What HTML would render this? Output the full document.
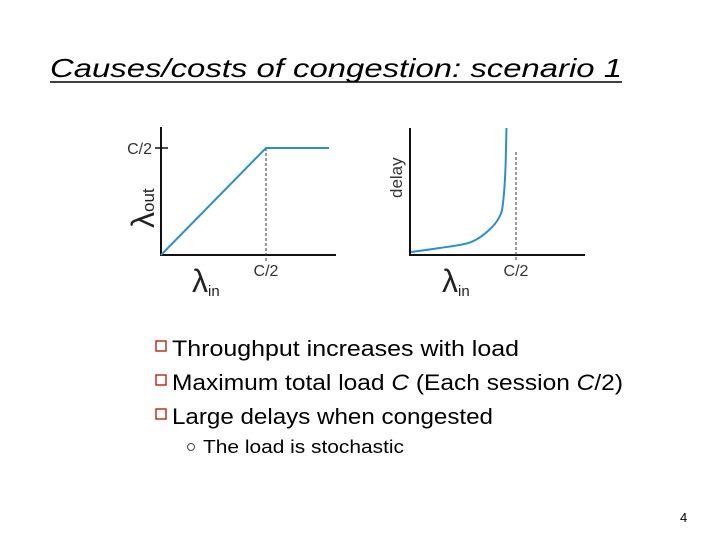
<!DOCTYPE html>
<html><head><meta charset="utf-8"><style>
body{margin:0;background:#fff}
svg{display:block}
text{font-family:"Liberation Sans",sans-serif}
</style></head><body>
<svg width="720" height="540" viewBox="0 0 720 540">
<text x="50" y="77" font-size="26" font-style="italic" textLength="572" lengthAdjust="spacingAndGlyphs" fill="#000">Causes/costs of congestion: scenario 1</text>
<line x1="50" y1="82" x2="622" y2="82" stroke="#000" stroke-width="1.5"/>

<g id="c1"></g>
<g id="c2"></g>

<g font-size="22" fill="#000">
<rect x="156" y="341" width="10" height="10" fill="none" stroke="#c03020" stroke-width="1.5"/>
<text x="172" y="356" textLength="347" lengthAdjust="spacingAndGlyphs">Throughput increases with load</text>
<rect x="156" y="375" width="10" height="10" fill="none" stroke="#c03020" stroke-width="1.5"/>
<text x="172" y="390" textLength="451" lengthAdjust="spacingAndGlyphs">Maximum total load <tspan font-style="italic">C</tspan> (Each session <tspan font-style="italic">C</tspan>/2)</text>
<rect x="156" y="409" width="10" height="10" fill="none" stroke="#c03020" stroke-width="1.5"/>
<text x="172" y="424" textLength="321" lengthAdjust="spacingAndGlyphs">Large delays when congested</text>
<circle cx="191" cy="447" r="3.5" fill="none" stroke="#444" stroke-width="1"/>
<text x="203" y="453" font-size="18" textLength="201" lengthAdjust="spacingAndGlyphs">The load is stochastic</text>
</g>
<text x="680" y="522" font-size="13">4</text>
</svg>
<script>
// Throughput chart data (x, y in units of C/2)
const tpX = [0, 1, 1.6];
const tpY = [0, 1, 1];
// Delay chart data (x in units of C/2, delay arbitrary units)
const dlX = [0.01, 0.28, 0.57, 0.75, 0.85, 0.88, 0.90, 0.91];
const dlY = [0.24, 0.55, 1.0, 2.0, 3.1, 4.3, 6.7, 10];
const tickLabels = ["C/2"];

const NS="http://www.w3.org/2000/svg";
function mk(p,tag,attrs){const e=document.createElementNS(NS,tag);for(const k in attrs)e.setAttribute(k,attrs[k]);p.appendChild(e);return e;}
const blue="#2a8fd0";

// chart 1
const g1=document.getElementById('c1');
const x1=v=>161+v*105, y1=v=>255-v*107;
let e;
e=mk(g1,'line',{x1:161,y1:127,x2:161,y2:256,stroke:'#111','stroke-width':2});


e=mk(g1,'line',{x1:160,y1:255,x2:336,y2:255,stroke:'#111','stroke-width':2});


e=mk(g1,'line',{x1:155,y1:y1(1),x2:168,y2:y1(1),stroke:'#111','stroke-width':1.5});


e=mk(g1,'text',{x:152,y:y1(1)+6,'font-size':16,'text-anchor':'end',fill:'#333'});e.textContent=tickLabels[0];


e=mk(g1,'line',{x1:x1(1),y1:y1(1),x2:x1(1),y2:262,stroke:'#333','stroke-width':1,'stroke-dasharray':'3,2'});


e=mk(g1,'text',{x:x1(1),y:276,'font-size':16,'text-anchor':'middle',fill:'#333'});e.textContent=tickLabels[0];


e=mk(g1,'polyline',{points:tpX.map((v,i)=>x1(v)+','+y1(tpY[i])).join(' '),fill:'none',stroke:blue,'stroke-width':2});


e=mk(g1,'text',{x:0,y:0,'font-size':32,fill:'#222',transform:'translate(154,228) rotate(-90)'});e.innerHTML='λ<tspan font-size="17">out</tspan>';


e=mk(g1,'text',{x:192,y:292,'font-size':32,fill:'#222'});e.innerHTML='λ<tspan font-size="15" dy="4">in</tspan>';



// chart 2
const g2=document.getElementById('c2');
const x2=v=>410+v*106, y2=v=>255-v*12.7;
e=mk(g2,'line',{x1:410,y1:128,x2:410,y2:256,stroke:'#111','stroke-width':2});


e=mk(g2,'line',{x1:409,y1:255,x2:585,y2:255,stroke:'#111','stroke-width':2});


e=mk(g2,'line',{x1:x2(1),y1:152,x2:x2(1),y2:262,stroke:'#333','stroke-width':1,'stroke-dasharray':'3,2'});


e=mk(g2,'text',{x:x2(1),y:276,'font-size':16,'text-anchor':'middle',fill:'#333'});e.textContent=tickLabels[0];


const P=dlX.map((v,i)=>[x2(v),y2(dlY[i])]);
let d='M'+P[0][0]+','+P[0][1];
for(let i=0;i<P.length-1;i++){
  const p0=P[Math.max(0,i-1)],p1=P[i],p2=P[i+1],p3=P[Math.min(P.length-1,i+2)];
  const c1x=p1[0]+(p2[0]-p0[0])/6,c1y=p1[1]+(p2[1]-p0[1])/6;
  const c2x=p2[0]-(p3[0]-p1[0])/6,c2y=p2[1]-(p3[1]-p1[1])/6;
  d+=' C'+c1x+','+c1y+' '+c2x+','+c2y+' '+p2[0]+','+p2[1];
}
e=mk(g2,'path',{d:d,fill:'none',stroke:blue,'stroke-width':2,'stroke-linejoin':'round'});


e=mk(g2,'text',{x:0,y:0,'font-size':17,fill:'#333',transform:'translate(402,198) rotate(-90)'});e.textContent='delay';


e=mk(g2,'text',{x:442,y:292,'font-size':32,fill:'#222'});e.innerHTML='λ<tspan font-size="15" dy="4">in</tspan>';


</script>
</body></html>
